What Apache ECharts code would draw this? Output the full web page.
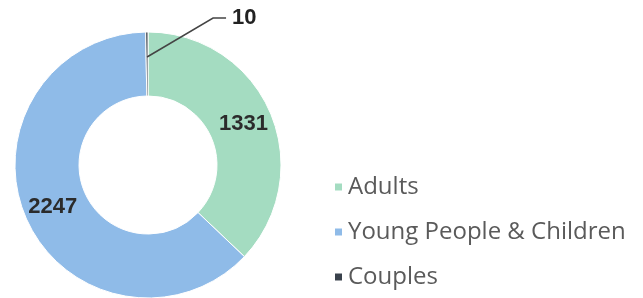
<!DOCTYPE html>
<html lang="en">
<head>
    <meta http-equiv="Content-Type" content="text/html; charset=utf-8"/>
    <title>Donut</title>
    <script type="text/javascript" src="https://cdn.jsdelivr.net/npm/echarts@6/dist/echarts.min.js"></script>
    <style>
        html, body { margin: 0; padding: 0; background: #fff; }
        #showChart { width: 643px; height: 298px; }
    </style>
</head>
<body>
<div id="showChart"></div>
<script type="text/javascript">
    // 数据
    var categories = ['Adults', 'Young People & Children', 'Couples'];
    var values = [1331, 2247, 10];
    var colors = ['#a4dcc1', '#8fbbe8', '#3a424c'];

    var myChart = echarts.init(document.getElementById('showChart'));

    var pieData = [];
    var overlayData = [];
    for (var i = 0; i < categories.length; i++) {
        pieData.push({
            value: values[i],
            name: categories[i],
            itemStyle: {color: colors[i]},
            label: {show: i != 2}
        });
        // 上层透明的一份，只用来画 "10" 的引线（这样线在扇区上面）
        overlayData.push({
            value: values[i],
            name: categories[i],
            itemStyle: {color: 'rgba(0,0,0,0)', borderWidth: 0},
            label: {show: i == 2},
            labelLine: {show: i == 2}
        });
    }

    var option = {
        animation: false,
        legend: {
            orient: 'vertical',
            left: 328,
            top: 170,
            icon: 'rect',
            itemWidth: 9,
            itemHeight: 9,
            itemGap: 21,
            textStyle: {
                fontFamily: 'Open Sans',
                fontSize: 24,
                color: '#5a5a5a'
            },
            data: categories
        },
        series: [
            {
                name: 'Households',
                type: 'pie',
                radius: [69, 133],
                center: [148, 165],
                startAngle: 90,
                clockwise: true,
                avoidLabelOverlap: false,
                itemStyle: {borderColor: '#fff', borderWidth: 1},
                label: {
                    position: 'inside',
                    formatter: '{c}',
                    fontFamily: 'Liberation Sans',
                    fontWeight: 'bold',
                    fontSize: 22,
                    color: '#2b2b2b'
                },
                labelLine: {show: false},
                data: pieData
            },
            {
                // 半径小一点，引线就从环中间开始；z 高一点，线画在扇区上面
                name: 'overlay',
                type: 'pie',
                z: 10,
                radius: [0, 108],
                center: [148, 165],
                startAngle: 90,
                clockwise: true,
                avoidLabelOverlap: false,
                silent: true,
                legendHoverLink: false,
                label: {
                    position: 'outside',
                    formatter: '{c}',
                    fontFamily: 'Liberation Sans',
                    fontWeight: 'bold',
                    fontSize: 22,
                    color: '#222'
                },
                labelLine: {length: 20, length2: 12, lineStyle: {color: '#444', width: 1.5}},
                labelLayout: function (params) {
                    if (params.dataIndex != 2) return {};
                    // 把 "10" 拉到右上方
                    var p = params.labelLinePoints;
                    if (!p) return {};
                    var sx = p[0][0], sy = p[0][1];
                    var ex = sx + 66, ey = 18;
                    return {
                        x: ex + 19,
                        y: ey,
                        align: 'left',
                        verticalAlign: 'middle',
                        labelLinePoints: [[sx, sy], [ex, ey], [ex + 13, ey]]
                    };
                },
                data: overlayData
            }
        ]
    };
    myChart.setOption(option);
</script>
</body>
</html>
